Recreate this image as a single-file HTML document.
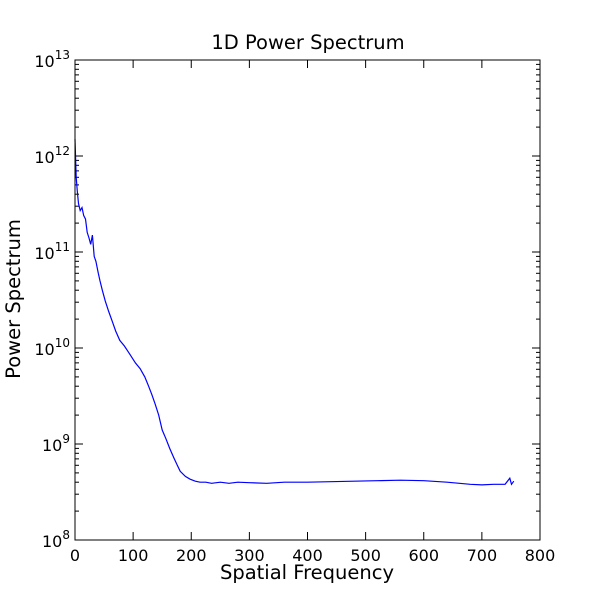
<!DOCTYPE html>
<html><head><meta charset="utf-8"><style>
body{margin:0;background:#fff;}
svg{display:block;font-family:"DejaVu Sans","Liberation Sans",sans-serif;}
</style></head><body>
<svg id="chart" width="600" height="600" viewBox="0 0 600 600">
<rect x="0" y="0" width="600" height="600" fill="#fff"/>
<text x="308" y="49" font-size="19.5" text-anchor="middle">1D Power Spectrum</text>
<text x="307" y="579" font-size="19.5" text-anchor="middle">Spatial Frequency</text>
<text transform="translate(20,299) rotate(-90)" font-size="19.5" text-anchor="middle">Power Spectrum</text>
<g id="ticks"></g>
<path id="series" fill="none" stroke="#0000ff" stroke-width="1.2"/>
<rect x="75" y="60" width="465" height="480" fill="none" stroke="#000" stroke-width="1"/>
</svg>
<script>
const freqs = [0,2,4,6,9,12,15,18,21,24,27,30,33,36,40,43,47,52,58,64,70,77,85,95,104,112,120,126,132,138,144,150,156,163,170,176,181,190,198,207,215,225,235,250,265,280,300,330,360,400,440,480,520,560,600,640,680,700,720,740,748,751,755];
const power = [1.5e12,6e11,4.3e11,3.2e11,2.7e11,2.9e11,2.4e11,2.2e11,1.6e11,1.4e11,1.2e11,1.5e11,9e10,8e10,6e10,5e10,4e10,3.1e10,2.4e10,1.9e10,1.5e10,1.2e10,1.05e10,8.5e9,7e9,6.1e9,5e9,4.1e9,3.3e9,2.6e9,2e9,1.4e9,1.15e9,9e8,7.2e8,6e8,5.2e8,4.6e8,4.3e8,4.1e8,4.0e8,4.0e8,3.9e8,4.0e8,3.9e8,4.0e8,3.95e8,3.9e8,4.0e8,4.0e8,4.05e8,4.1e8,4.15e8,4.2e8,4.15e8,4.0e8,3.8e8,3.75e8,3.8e8,3.8e8,4.4e8,3.8e8,4.1e8];
const xTicks = [0,100,200,300,400,500,600,700,800];
const yExps = [8,9,10,11,12,13];

const X0=75,X1=540,Y0=540,Y1=60;
const xs = v => X0 + (v-0)/(800-0)*(X1-X0);
const ys = v => Y0 - (Math.log10(v)-8)/(13-8)*(Y0-Y1);
const NS="http://www.w3.org/2000/svg";
const g=document.getElementById('ticks');
function line(x1,y1,x2,y2,name){const l=document.createElementNS(NS,'line');
l.setAttribute('x1',x1);l.setAttribute('y1',y1);l.setAttribute('x2',x2);l.setAttribute('y2',y2);
l.setAttribute('stroke','#000');l.setAttribute('stroke-width','1');


g.appendChild(l);}
xTicks.forEach(t=>{const x=xs(t);
line(x,Y0,x,Y0-8,'x-tick');line(x,Y1,x,Y1+8,'x-tick-top');
const tx=document.createElementNS(NS,'text');tx.setAttribute('x',x);tx.setAttribute('y',Y0+21);
tx.setAttribute('font-size','16');tx.setAttribute('text-anchor','middle');tx.textContent=t;


g.appendChild(tx);});
yExps.forEach(e=>{const y=ys(Math.pow(10,e));
line(X0,y,X0+8,y,'y-tick');line(X1,y,X1-8,y,'y-tick-right');
if(e<13){for(let m=2;m<=9;m++){const ym=ys(m*Math.pow(10,e));line(X0,ym,X0+4,ym,'y-minor-tick');line(X1,ym,X1-4,ym,'y-minor-tick-right');}}
const tx=document.createElementNS(NS,'text');tx.setAttribute('x',X0-5);tx.setAttribute('y',y+7);
tx.setAttribute('font-size','16');tx.setAttribute('text-anchor','end');
const a=document.createElementNS(NS,'tspan');a.textContent='10';
const b=document.createElementNS(NS,'tspan');b.textContent=e;b.setAttribute('font-size','12');b.setAttribute('dy','-8');
tx.appendChild(a);tx.appendChild(b);


g.appendChild(tx);
});
let d='';freqs.forEach((f,i)=>{d+=(i?'L':'M')+xs(f).toFixed(1)+','+ys(power[i]).toFixed(1);});
document.getElementById('series').setAttribute('d',d);
</script>
</body></html>
